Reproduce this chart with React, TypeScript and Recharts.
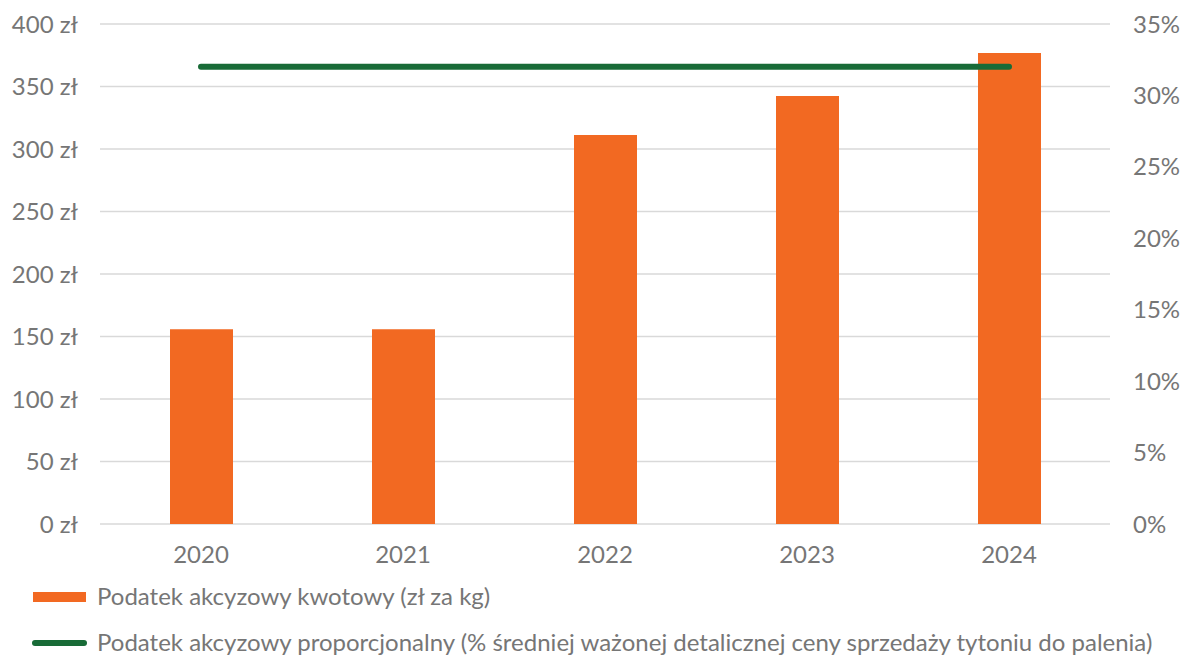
import React from "react";
import { Bar, CartesianGrid, ComposedChart, Line, XAxis, YAxis } from "recharts";

// Values.
const YEARS = ["2020", "2021", "2022", "2023", "2024"];
const KWOTOWY_ZL = [155.8, 155.8, 311.2, 342.4, 376.8];
const PROPORCJONALNY_PCT = [32, 32, 32, 32, 32];
const LEFT_TICKS = [0, 50, 100, 150, 200, 250, 300, 350, 400];
const RIGHT_TICKS = [0, 5, 10, 15, 20, 25, 30, 35];

const BAR_LABEL = "Podatek akcyzowy kwotowy (zł za kg)";
const LINE_LABEL =
  "Podatek akcyzowy proporcjonalny (% średniej ważonej detalicznej ceny sprzedaży tytoniu do palenia)";

const ORANGE = "#f26922";
const GREEN = "#186b37";
const TEXT = "#767676";
const GRID = "#d9d9d9";
const FONT = "Lato, 'Noto Sans', sans-serif";

const data = YEARS.map((year, i) => ({
  year,
  zl: KWOTOWY_ZL[i],
  pct: PROPORCJONALNY_PCT[i],
}));

const tickStyle = { fill: TEXT, fontSize: 24, fontFamily: FONT };

export default function App() {
  return (
    <div
      style={{
        position: "absolute",
        left: 0,
        top: 0,
        width: 1182,
        height: 655,
        overflow: "hidden",
        background: "#fff",
        fontFamily: FONT,
      }}
    >
      <ComposedChart
        width={1182}
        height={655}
        data={data}
        margin={{ top: 24, right: 0, bottom: 0, left: 0 }}
      >
        <CartesianGrid yAxisId="left" vertical={false} stroke={GRID} strokeWidth={1.5} />
        <XAxis
          dataKey="year"
          height={131}
          axisLine={false}
          tickLine={false}
          tickSize={0}
          tickMargin={22}
          tick={tickStyle}
        />
        <YAxis
          yAxisId="left"
          domain={[0, 400]}
          ticks={LEFT_TICKS}
          width={100}
          axisLine={false}
          tickLine={false}
          tickSize={0}
          tickMargin={22}
          tick={tickStyle}
          tickFormatter={(v) => `${v} zł`}
        />
        <YAxis
          yAxisId="right"
          orientation="right"
          domain={[0, 35]}
          ticks={RIGHT_TICKS}
          width={72}
          axisLine={false}
          tickLine={false}
          tickSize={0}
          tickMargin={23}
          tick={tickStyle}
          tickFormatter={(v) => `${v}%`}
        />
        <Bar yAxisId="left" dataKey="zl" fill={ORANGE} barSize={63} isAnimationActive={false} />
        <Line
          yAxisId="right"
          type="linear"
          dataKey="pct"
          stroke={GREEN}
          strokeWidth={6}
          strokeLinecap="round"
          dot={false}
          activeDot={false}
          isAnimationActive={false}
        />
      </ComposedChart>

      {/* legend, drawn by hand under the plot */}
      <div style={{ position: "absolute", left: 33, top: 592, width: 53, height: 10, background: ORANGE }} />
      <div
        style={{
          position: "absolute",
          left: 97,
          top: 584,
          fontSize: 24,
          lineHeight: "24px",
          color: TEXT,
          whiteSpace: "nowrap",
        }}
      >
        {BAR_LABEL}
      </div>
      <div
        style={{
          position: "absolute",
          left: 32,
          top: 640,
          width: 55,
          height: 6,
          borderRadius: 3,
          background: GREEN,
        }}
      />
      <div
        style={{
          position: "absolute",
          left: 97,
          top: 630,
          fontSize: 24,
          lineHeight: "24px",
          color: TEXT,
          whiteSpace: "nowrap",
        }}
      >
        {LINE_LABEL}
      </div>
    </div>
  );
}
